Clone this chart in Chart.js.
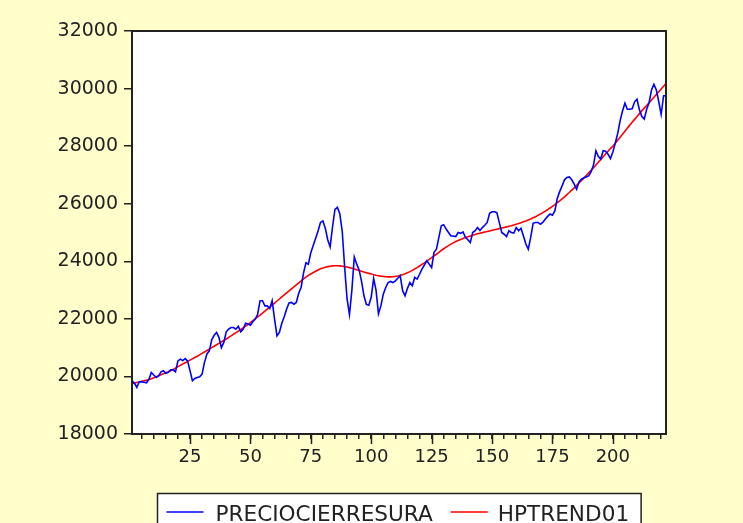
<!DOCTYPE html>
<html>
<head>
<meta charset="utf-8">
<script src="https://cdn.jsdelivr.net/npm/chart.js@4.4.1/dist/chart.umd.min.js"></script>
<style>
  html, body { margin: 0; padding: 0; background: #FFFFCC; }
  #wrap { width: 743px; height: 523px; position: relative; }
</style>
</head>
<body>
<div id="wrap"><canvas id="c" width="743" height="523"></canvas></div>
<script>
// ---- data ----
const seriesNames = ['PRECIOCIERRESURA', 'HPTREND01'];

const precioCierreSura = [
  19850, 19770, 19620, 19815, 19810, 19800, 19780, 19900, 20140, 20050,
  19965, 20020, 20160, 20200, 20110, 20140, 20230, 20230, 20160, 20540,
  20600, 20550, 20620, 20540, 20200, 19850, 19930, 19965, 19990, 20080,
  20490, 20780, 20890, 21270, 21430, 21530, 21350, 21000, 21180, 21550,
  21640, 21700, 21700, 21640, 21740, 21550, 21640, 21850, 21820, 21780,
  21900, 21990, 22160, 22630, 22630, 22450, 22450, 22360, 22630, 21990,
  21410, 21530, 21850, 22070, 22340, 22550, 22570, 22510, 22570, 22890,
  23100, 23600, 23950, 23900, 24300, 24550, 24800, 25050, 25350, 25400,
  25150, 24750, 24500, 25200, 25800, 25870, 25650, 25050, 23800, 22700,
  22150, 23000, 24150, 23900, 23700, 23300, 22800, 22500, 22470, 22750,
  23400, 23000, 22180, 22450, 22860, 23090, 23260, 23300, 23260, 23320,
  23410, 23500, 22980, 22800, 23060, 23260, 23150, 23440, 23380, 23550,
  23730, 23870, 24020, 23900, 23780, 24310, 24420, 24830, 25230, 25270,
  25120, 25000, 24880, 24880, 24860, 25000, 24970, 25020, 24830, 24750,
  24650, 25000, 25060, 25170, 25070, 25170, 25250, 25350, 25670, 25720,
  25720, 25690, 25350, 25000, 24940, 24860, 25060, 25000, 24980, 25170,
  25060, 25150, 24880, 24600, 24420, 24830, 25320, 25350, 25350, 25290,
  25350, 25460, 25560, 25640, 25600, 25750, 26180, 26420, 26620, 26830,
  26910, 26930, 26830, 26680, 26500, 26760, 26850, 26900, 26930, 26970,
  27110, 27340, 27840, 27640, 27550, 27840, 27820, 27720, 27570, 27800,
  28100, 28440, 28880, 29220, 29490, 29280, 29280, 29300, 29540, 29630,
  29260, 29030, 28940, 29280, 29510, 29950, 30150, 29950, 29550, 29100,
  29750, 29750
];

const hpTrend01 = [
  19750, 19770, 19790, 19810, 19830, 19850, 19870, 19890, 19920, 19950,
  19985, 20020, 20055, 20090, 20125, 20160, 20200, 20240, 20290, 20340,
  20385, 20430, 20475, 20520, 20565, 20610, 20655, 20700, 20750, 20800,
  20850, 20900, 20950, 21000, 21050, 21100, 21150, 21200, 21250, 21300,
  21355, 21410, 21465, 21520, 21575, 21630, 21690, 21750, 21810, 21870,
  21935, 22000, 22065, 22130, 22200, 22270, 22340, 22410, 22480, 22550,
  22620, 22690, 22760, 22830, 22900, 22970, 23040, 23110, 23180, 23250,
  23320, 23390, 23450, 23510, 23560, 23610, 23655, 23700, 23740, 23770,
  23795, 23815, 23830, 23840, 23845, 23845, 23840, 23830, 23815, 23800,
  23780, 23755, 23730, 23705, 23680, 23655, 23630, 23605, 23580, 23555,
  23535, 23515, 23500, 23485, 23475, 23465, 23460, 23460, 23465, 23475,
  23490, 23510, 23535, 23565, 23600, 23640, 23685, 23730, 23780, 23835,
  23890, 23945, 24005, 24065, 24125, 24185, 24245, 24310, 24375, 24435,
  24490, 24545, 24595, 24640, 24685, 24725, 24760, 24795, 24825, 24855,
  24880, 24905, 24930, 24955, 24975, 24995, 25015, 25035, 25055, 25075,
  25095, 25115, 25135, 25155, 25175, 25195, 25215, 25235, 25260, 25285,
  25310, 25340, 25370, 25400, 25435, 25470, 25510, 25550, 25595, 25640,
  25690, 25740, 25795, 25850, 25910, 25970, 26035, 26100, 26170, 26240,
  26315, 26390, 26470, 26550, 26635, 26720, 26805, 26890, 26980, 27070,
  27160, 27250, 27345, 27440, 27535, 27630, 27725, 27820, 27915, 28000,
  28100, 28205, 28310, 28415, 28520, 28625, 28730, 28830, 28930, 29030,
  29130, 29225, 29320, 29415, 29510, 29605, 29700, 29795, 29890, 29985,
  30080, 30175
];

// observation numbers (category axis 1..N)
const observations = precioCierreSura.map((_, k) => k + 1);

const yTickMin = 18000, yTickMax = 32000, yTickStep = 2000;
const xLabeledTicks = [25, 50, 75, 100, 125, 150, 175, 200];
const xMinorStep = 5;

// ---- styling ----
const BG = '#FFFFCC';
const INK = '#222222';
const FONT = '"DejaVu Sans", "Liberation Sans", Arial, sans-serif';

const framePlugin = {
  id: 'framePlugin',
  beforeDraw(chart) {
    const { ctx, chartArea: a } = chart;
    ctx.save();
    ctx.fillStyle = BG;
    ctx.fillRect(0, 0, chart.width, chart.height);
    ctx.fillStyle = '#FFFFFF';
    ctx.fillRect(a.left, a.top, a.right - a.left, a.bottom - a.top);
    ctx.restore();
  },
  afterDraw(chart) {
    const { ctx, chartArea: a } = chart;
    const xs = chart.scales.x;
    ctx.save();
    // plot frame
    ctx.strokeStyle = INK;
    ctx.lineWidth = 2;
    ctx.strokeRect(a.left, a.top, a.right - a.left, a.bottom - a.top);
    // longer major ticks on x axis
    ctx.lineWidth = 1.5;
    ctx.beginPath();
    xLabeledTicks.forEach(v => {
      const px = Math.round(xs.getPixelForValue(v)) + 0.5;
      ctx.moveTo(px, a.bottom);
      ctx.lineTo(px, a.bottom + 10);
    });
    ctx.stroke();

    // legend box
    const colors = chart.data.datasets.map(d => d.borderColor);
    const names = chart.data.datasets.map(d => d.label);
    ctx.font = '21.6px ' + FONT;
    const w0 = ctx.measureText(names[0]).width;
    const w1 = ctx.measureText(names[1]).width;
    const padL = 9, lineLen = 37, gapText = 12, gapItem = 18, gapText2 = 10, padR = 12;
    const total = padL + lineLen + gapText + w0 + gapItem + lineLen + gapText2 + w1 + padR;
    const cx = (a.left + a.right) / 2;
    const bx = Math.round(cx - total / 2) + 0.5;
    const by = 493.5;
    ctx.lineWidth = 1.5;
    ctx.strokeStyle = INK;
    ctx.fillStyle = '#FFFFFF';
    ctx.beginPath();
    ctx.rect(bx, by, total, 60);
    ctx.fill();
    ctx.stroke();
    const ly = 512;
    let x = bx + padL;
    ctx.lineWidth = 1.5;
    ctx.strokeStyle = colors[0];
    ctx.beginPath(); ctx.moveTo(x, ly); ctx.lineTo(x + lineLen, ly); ctx.stroke();
    x += lineLen + gapText;
    ctx.fillStyle = INK;
    ctx.textBaseline = 'alphabetic';
    ctx.textAlign = 'left';
    ctx.fillText(names[0], x, 521);
    x += w0 + gapItem;
    ctx.strokeStyle = colors[1];
    ctx.beginPath(); ctx.moveTo(x, ly); ctx.lineTo(x + lineLen, ly); ctx.stroke();
    x += lineLen + gapText2;
    ctx.fillText(names[1], x, 521);
    ctx.restore();
  }
};

new Chart(document.getElementById('c'), {
  type: 'line',
  data: {
    labels: observations,
    datasets: [
      {
        label: seriesNames[0],
        data: precioCierreSura,
        borderColor: '#0000FF',
        borderWidth: 1.6,
        pointRadius: 0,
        tension: 0,
        fill: false
      },
      {
        label: seriesNames[1],
        data: hpTrend01,
        borderColor: '#FF0000',
        borderWidth: 1.6,
        pointRadius: 0,
        tension: 0,
        fill: false
      }
    ]
  },
  options: {
    responsive: false,
    animation: false,
    devicePixelRatio: 1,
    layout: { padding: { top: 31, right: 77, left: 0, bottom: 0 } },
    plugins: {
      legend: { display: false },
      tooltip: { enabled: false },
      title: { display: false }
    },
    scales: {
      x: {
        type: 'linear',
        min: 1,
        max: observations.length,
        border: { display: false },
        grid: {
          display: true,
          drawOnChartArea: false,
          drawTicks: true,
          tickLength: 5,
          color: INK,
          lineWidth: 1.5
        },
        afterBuildTicks(scale) {
          const t = [];
          for (let v = xMinorStep; v <= observations.length; v += xMinorStep) t.push({ value: v });
          scale.ticks = t;
        },
        afterFit(scale) { scale.height = 89; },
        ticks: {
          autoSkip: false,
          maxRotation: 0,
          minRotation: 0,
          padding: 8,
          color: INK,
          font: { family: FONT, size: 18 },
          callback: v => (xLabeledTicks.includes(v) ? String(v) : '')
        }
      },
      y: {
        min: yTickMin,
        max: yTickMax,
        border: { display: false },
        grid: {
          display: true,
          drawOnChartArea: false,
          drawTicks: true,
          tickLength: 8,
          color: INK,
          lineWidth: 1.5
        },
        afterFit(scale) { scale.width = 132; },
        ticks: {
          stepSize: yTickStep,
          padding: 6,
          color: INK,
          font: { family: FONT, size: 19 },
          callback: v => String(v)
        }
      }
    }
  },
  plugins: [framePlugin]
});
</script>
</body>
</html>
